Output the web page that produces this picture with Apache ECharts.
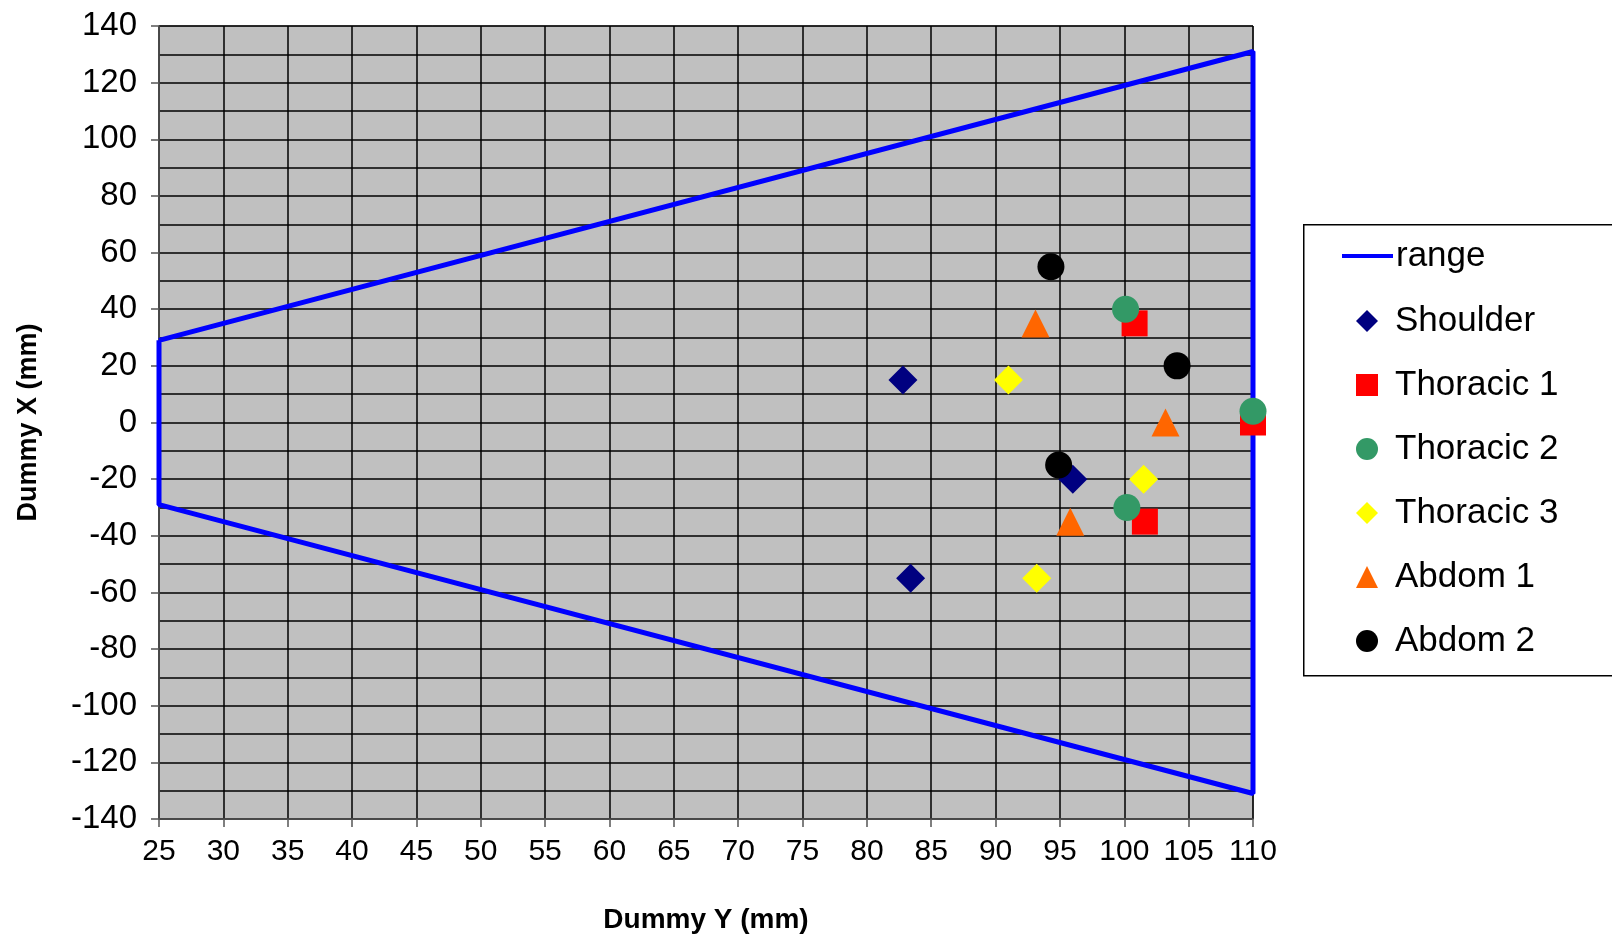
<!DOCTYPE html>
<html>
<head>
<meta charset="utf-8">
<script src="https://cdn.jsdelivr.net/npm/echarts@6/dist/echarts.min.js"></script>
<style>
  html, body { margin: 0; padding: 0; background: #fff; }
  #chart { width: 1612px; height: 939px; }
</style>
</head>
<body>
<div id="chart"></div>
<script>
// values: [Dummy Y, Dummy X]
var range = [[25, 29], [110, 131], [110, -131], [25, -29], [25, 29]];
var shoulder = [[82.8, 15], [83.4, -55], [96, -20]];
var thoracic1 = [[100.8, 35], [101.6, -35], [110, 0]];
var thoracic2 = [[100.1, 40], [100.2, -30], [110, 4]];
var thoracic3 = [[91, 15], [101.5, -20], [93.2, -55]];
var abdom1 = [[93.1, 35], [103.2, 0], [95.8, -35]];
var abdom2 = [[94.3, 55], [104.1, 20], [94.9, -15]];

var font = 'Liberation Sans, Arial, sans-serif';
var legendText = { fontSize: 35, lineHeight: 36, color: '#000', fontFamily: font };

function pts(name, data, symbol, color, size) {
  return {
    name: name,
    type: 'scatter',
    data: data,
    symbol: symbol,
    symbolSize: size,
    itemStyle: { color: color, opacity: 1 },
    z: 3
  };
}

var chart = echarts.init(document.getElementById('chart'));
chart.setOption({
  animation: false,
  textStyle: { fontFamily: font },
  grid: {
    left: 159, right: 359, top: 26, bottom: 120,
    show: true,
    backgroundColor: '#c0c0c0',
    borderColor: '#555',
    borderWidth: 1
  },
  // legend frame, runs off the right edge like the original
  graphic: [{
    type: 'rect',
    left: 1303, top: 224,
    shape: { width: 330, height: 451 },
    style: { fill: '#fff', stroke: '#000', lineWidth: 1.5 },
    z: 0
  }],
  xAxis: {
    type: 'value',
    min: 25, max: 110, interval: 5,
    name: 'Dummy Y (mm)',
    nameLocation: 'middle',
    nameGap: 87,
    nameTextStyle: { fontSize: 28, fontWeight: 'bold', color: '#000', fontFamily: font },
    axisLine: { onZero: false, lineStyle: { color: '#555', width: 1.5 } },
    axisTick: { show: true, length: 8, lineStyle: { color: '#555', width: 1.5 } },
    axisLabel: { fontSize: 30, color: '#000', margin: 18, fontFamily: font },
    splitLine: { show: true, lineStyle: { color: '#000', width: 1.5 } }
  },
  yAxis: {
    type: 'value',
    min: -140, max: 140, interval: 20,
    name: 'Dummy X (mm)',
    nameLocation: 'middle',
    nameGap: 117,
    nameTextStyle: { fontSize: 27, fontWeight: 'bold', color: '#000', fontFamily: font },
    axisLine: { onZero: false, lineStyle: { color: '#555', width: 1.5 } },
    axisTick: { show: true, length: 8, lineStyle: { color: '#555', width: 1.5 } },
    axisLabel: { fontSize: 33, color: '#000', margin: 22, fontFamily: font },
    splitLine: { show: true, lineStyle: { color: '#000', width: 1.5 } },
    minorTick: { show: false, splitNumber: 2 },
    minorSplitLine: { show: true, lineStyle: { color: '#000', width: 1.5 } }
  },
  legend: [
    {
      orient: 'vertical',
      left: 1342,
      top: 238,
      padding: 0,
      itemWidth: 51,
      itemHeight: 4,
      icon: 'rect',
      textStyle: Object.assign({ padding: [0, 0, 0, -2] }, legendText),
      data: ['range']
    },
    {
      orient: 'vertical',
      left: 1356,
      top: 303,
      padding: 0,
      itemWidth: 22,
      itemHeight: 22,
      itemGap: 28,
      textStyle: Object.assign({ padding: [0, 0, 0, 12] }, legendText),
      data: [
        { name: 'Shoulder', icon: 'diamond' },
        { name: 'Thoracic 1', icon: 'rect' },
        { name: 'Thoracic 2', icon: 'circle' },
        { name: 'Thoracic 3', icon: 'diamond' },
        { name: 'Abdom 1', icon: 'triangle' },
        { name: 'Abdom 2', icon: 'circle' }
      ]
    }
  ],
  series: [
    {
      name: 'range',
      type: 'line',
      data: range,
      symbol: 'none',
      lineStyle: { color: '#0000ff', width: 5 },
      itemStyle: { color: '#0000ff' },
      z: 2
    },
    pts('Shoulder', shoulder, 'diamond', '#000080', 29),
    pts('Thoracic 1', thoracic1, 'rect', '#ff0000', 26),
    pts('Thoracic 2', thoracic2, 'circle', '#339966', 27),
    pts('Thoracic 3', thoracic3, 'diamond', '#ffff00', 29),
    pts('Abdom 1', abdom1, 'triangle', '#ff6600', 28),
    pts('Abdom 2', abdom2, 'circle', '#000000', 27)
  ]
});
</script>
</body>
</html>
